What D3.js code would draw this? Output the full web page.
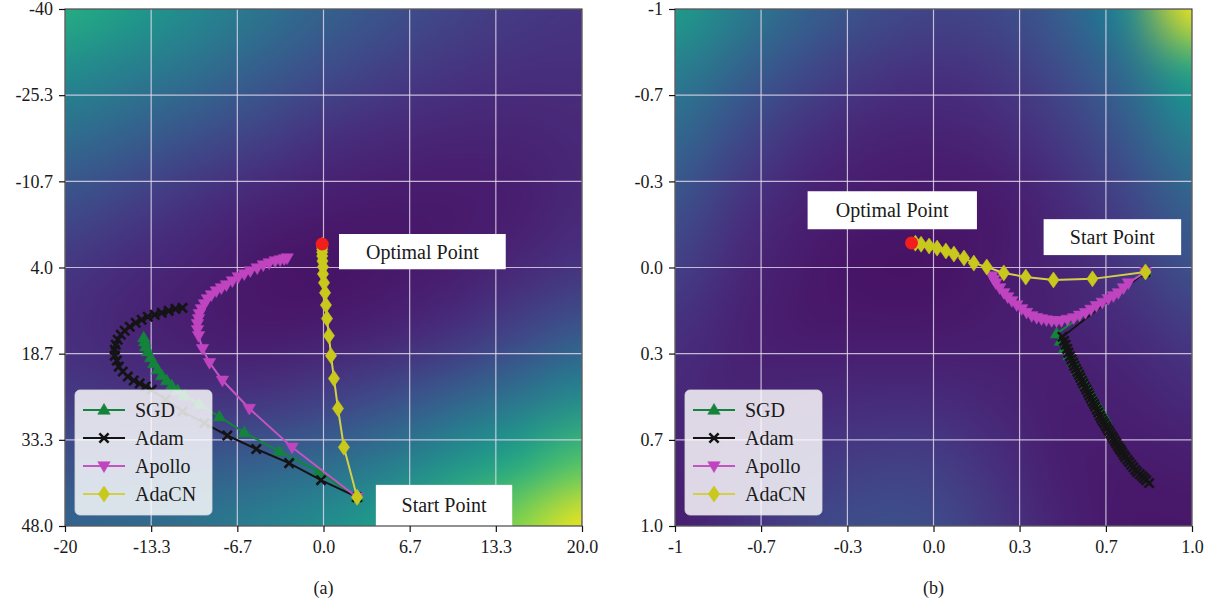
<!DOCTYPE html>
<html><head><meta charset="utf-8">
<script src="https://cdn.jsdelivr.net/npm/d3@7"></script>
<style>
body{margin:0;background:#fff;}
svg{display:block;font-family:"Liberation Serif","DejaVu Serif",serif;}
</style></head><body>
<svg id="chart" width="1221" height="605"></svg>
<script>
// ---------- tick values & labels ----------
const leftXTicks = [-20, -13.333, -6.667, 0, 6.667, 13.333, 20];
const leftXLabels = ["-20", "-13.3", "-6.7", "0.0", "6.7", "13.3", "20.0"];
const leftYTicks = [-40, -25.333, -10.667, 4, 18.667, 33.333, 48];
const leftYLabels = ["-40", "-25.3", "-10.7", "4.0", "18.7", "33.3", "48.0"];
const rightXTicks = [-1, -0.667, -0.333, 0, 0.333, 0.667, 1];
const rightXLabels = ["-1", "-0.7", "-0.3", "0.0", "0.3", "0.7", "1.0"];
const rightYTicks = [-1, -0.667, -0.333, 0, 0.333, 0.667, 1];
const rightYLabels = ["-1", "-0.7", "-0.3", "0.0", "0.3", "0.7", "1.0"];

const seriesNames = ["SGD", "Adam", "Apollo", "AdaCN"];
const captions = ["(a)", "(b)"];

// ---------- loss surface (colormap level 0..1) ----------
const leftSurfaceX = [-20, -15, -10, -5, 0, 5, 10, 15, 20];
const leftSurfaceY = [-40, -29, -18, -7, 4, 15, 26, 37, 48];
const leftSurface = [
  [0.62, 0.55, 0.47, 0.39, 0.31, 0.25, 0.20, 0.17, 0.15],
  [0.48, 0.42, 0.36, 0.29, 0.23, 0.18, 0.15, 0.13, 0.13],
  [0.35, 0.30, 0.24, 0.19, 0.14, 0.11, 0.10, 0.10, 0.11],
  [0.24, 0.19, 0.14, 0.10, 0.08, 0.07, 0.07, 0.08, 0.11],
  [0.16, 0.12, 0.09, 0.06, 0.05, 0.06, 0.08, 0.11, 0.15],
  [0.13, 0.10, 0.08, 0.07, 0.08, 0.10, 0.14, 0.20, 0.27],
  [0.17, 0.15, 0.14, 0.15, 0.18, 0.23, 0.30, 0.38, 0.47],
  [0.25, 0.25, 0.27, 0.30, 0.34, 0.41, 0.50, 0.60, 0.72],
  [0.32, 0.34, 0.38, 0.43, 0.49, 0.57, 0.68, 0.82, 0.98]
];
const rightSurfaceX = [-1, -0.75, -0.5, -0.25, 0, 0.25, 0.5, 0.75, 1];
const rightSurfaceY = [-1, -0.75, -0.5, -0.25, 0, 0.25, 0.5, 0.75, 1];
const rightSurface = [
  [0.55, 0.42, 0.31, 0.24, 0.20, 0.22, 0.30, 0.47, 0.98],
  [0.42, 0.31, 0.22, 0.16, 0.14, 0.16, 0.23, 0.35, 0.58],
  [0.33, 0.22, 0.14, 0.10, 0.09, 0.11, 0.17, 0.27, 0.42],
  [0.25, 0.15, 0.09, 0.07, 0.06, 0.07, 0.12, 0.20, 0.31],
  [0.19, 0.11, 0.07, 0.05, 0.05, 0.07, 0.10, 0.16, 0.25],
  [0.14, 0.09, 0.07, 0.07, 0.07, 0.08, 0.09, 0.12, 0.17],
  [0.11, 0.10, 0.11, 0.12, 0.12, 0.10, 0.08, 0.09, 0.12],
  [0.09, 0.12, 0.16, 0.18, 0.18, 0.13, 0.08, 0.07, 0.08],
  [0.08, 0.14, 0.20, 0.24, 0.23, 0.16, 0.09, 0.06, 0.06]
];

// ---------- trajectories, panel (a) ----------
const leftOptimum = [-0.1, 0.0];
const leftSGD = [
  [2.6, 43.1], [-0.35, 38.8], [-3.43, 35.3], [-6.13, 32.1], [-8.05, 29.4], [-9.60, 27.3],
  [-10.75, 25.79], [-11.29, 24.94], [-11.75, 24.09], [-12.14, 23.25], [-12.52, 22.40],
  [-12.83, 21.38], [-13.14, 20.36], [-13.37, 19.34], [-13.60, 18.33], [-13.76, 17.48],
  [-13.83, 16.63], [-13.91, 15.95]
];
const leftAdam = [
  [2.6, 43.1], [-0.19, 40.2], [-2.66, 37.3], [-5.20, 34.9], [-7.44, 32.6], [-9.21, 30.5],
  [-10.91, 28.5], [-12.22, 26.5], [-13.29, 24.8], [-13.76, 24.26], [-14.22, 23.75],
  [-14.68, 23.24], [-15.14, 22.57], [-15.53, 21.72], [-15.84, 20.87], [-15.99, 19.85],
  [-16.15, 19.00], [-16.15, 17.99], [-16.07, 17.14], [-15.92, 16.29], [-15.68, 15.44],
  [-15.38, 14.77], [-14.99, 14.09], [-14.53, 13.41], [-14.07, 12.90], [-13.60, 12.39],
  [-13.06, 12.05], [-12.52, 11.72], [-11.98, 11.38], [-11.45, 11.04], [-10.91, 10.87]
];
const leftApollo = [
  [2.6, 43.1], [-2.43, 34.6], [-5.74, 28.0], [-7.82, 23.2], [-8.82, 20.2], [-9.36, 17.8],
  [-9.67, 15.62], [-9.75, 14.60], [-9.75, 13.58], [-9.67, 12.73], [-9.60, 11.88],
  [-9.44, 11.04], [-9.21, 10.19], [-8.98, 9.34], [-8.67, 8.66], [-8.29, 7.99], [-7.90, 7.48],
  [-7.51, 6.97], [-7.05, 6.29], [-6.59, 5.61], [-6.13, 5.10], [-5.66, 4.59], [-5.13, 4.09],
  [-4.66, 3.58], [-4.20, 3.24], [-3.74, 2.90], [-3.35, 2.73], [-3.04, 2.56], [-2.81, 2.39]
];
const leftAdaCN = [
  [2.6, 43.1], [1.58, 34.6], [1.12, 28.0], [0.81, 22.9], [0.58, 19.0], [0.42, 15.6],
  [0.27, 12.7], [0.19, 10.4], [0.12, 8.3], [0.04, 6.6], [-0.04, 5.1], [-0.04, 3.9],
  [-0.08, 2.9], [-0.10, 2.05], [-0.10, 1.4], [-0.10, 0.9], [-0.10, 0.5], [-0.10, 0.2]
];

// ---------- trajectories, panel (b) ----------
const rightOptimum = [-0.085, -0.095];
const rightSGD = [
  [0.82, 0.017], [0.476, 0.256], [0.491, 0.285], [0.507, 0.314], [0.524, 0.341],
  [0.542, 0.368], [0.557, 0.397], [0.572, 0.426], [0.590, 0.455], [0.607, 0.484],
  [0.622, 0.511], [0.638, 0.538], [0.653, 0.565], [0.669, 0.592]
];
const rightAdam = [
  [0.82, 0.017], [0.499, 0.268], [0.505, 0.284], [0.511, 0.299], [0.517, 0.315],
  [0.522, 0.330], [0.528, 0.343], [0.534, 0.356], [0.540, 0.368], [0.545, 0.380],
  [0.551, 0.392], [0.557, 0.403], [0.563, 0.415], [0.568, 0.426], [0.574, 0.438],
  [0.580, 0.449], [0.586, 0.461], [0.592, 0.472], [0.598, 0.484], [0.603, 0.495],
  [0.609, 0.507], [0.615, 0.518], [0.621, 0.528], [0.626, 0.538], [0.632, 0.550],
  [0.638, 0.561], [0.644, 0.573], [0.649, 0.584], [0.655, 0.594], [0.661, 0.603],
  [0.667, 0.613], [0.672, 0.622], [0.678, 0.632], [0.684, 0.642], [0.690, 0.652],
  [0.696, 0.661], [0.702, 0.671], [0.707, 0.680], [0.713, 0.690], [0.719, 0.699],
  [0.725, 0.707], [0.730, 0.715], [0.736, 0.725], [0.742, 0.734], [0.750, 0.744],
  [0.757, 0.753], [0.765, 0.763], [0.773, 0.773], [0.781, 0.783], [0.788, 0.792],
  [0.798, 0.800], [0.807, 0.807], [0.815, 0.815], [0.823, 0.823], [0.834, 0.834]
];
const rightApollo = [
  [0.82, 0.017], [0.754, 0.060], [0.735, 0.079], [0.715, 0.098], [0.696, 0.110],
  [0.676, 0.121], [0.653, 0.135], [0.630, 0.148], [0.609, 0.162], [0.588, 0.175],
  [0.565, 0.185], [0.542, 0.195], [0.518, 0.201], [0.495, 0.206], [0.476, 0.207],
  [0.457, 0.206], [0.437, 0.203], [0.418, 0.199], [0.399, 0.194], [0.380, 0.187],
  [0.360, 0.174], [0.341, 0.160], [0.322, 0.145], [0.303, 0.129], [0.287, 0.114],
  [0.272, 0.098], [0.256, 0.079], [0.241, 0.060], [0.233, 0.046], [0.226, 0.033]
];
const rightAdaCN = [
  [0.82, 0.017], [0.615, 0.044], [0.464, 0.048], [0.357, 0.037], [0.272, 0.021],
  [0.206, -0.002], [0.156, -0.017], [0.118, -0.037], [0.079, -0.052], [0.048, -0.064],
  [0.014, -0.075], [-0.017, -0.083], [-0.048, -0.090], [-0.070, -0.094]
];

// ---------- styling ----------
const colors = {SGD: "#14833b", Adam: "#141414", Apollo: "#c044c0", AdaCN: "#c9c81c"};
const lineColors = {SGD: "#14833b", Adam: "#141414", Apollo: "#c255c2", AdaCN: "#d2cf4a"};
const markerPaths = {
  SGD: "M0,-6.5L6.2,4.2L-6.2,4.2Z",
  Adam: "M-4.6,-4.6L4.6,4.6M-4.6,4.6L4.6,-4.6",
  Apollo: "M0,6.5L6.2,-4.2L-6.2,-4.2Z",
  AdaCN: "M0,-8L5.6,0L0,8L-5.6,0Z"
};

const svg = d3.select("#chart");
const TOP = 9, SIZE = 517;
const FONT = '"Liberation Serif","DejaVu Serif",serif';

const panels = [
  {
    left: 65, xDomain: [-20, 20], yDomain: [-40, 48],
    xTicks: leftXTicks, xLabels: leftXLabels, yTicks: leftYTicks, yLabels: leftYLabels,
    sx: leftSurfaceX, sy: leftSurfaceY, surface: leftSurface,
    series: {SGD: leftSGD, Adam: leftAdam, Apollo: leftApollo, AdaCN: leftAdaCN},
    optimum: leftOptimum, caption: captions[0],
    optBox: [1.2, 14.1, -1.7, 4.3], startBox: [4.05, 14.6, 41.0, 48]
  },
  {
    left: 675, xDomain: [-1, 1], yDomain: [-1, 1],
    xTicks: rightXTicks, xLabels: rightXLabels, yTicks: rightYTicks, yLabels: rightYLabels,
    sx: rightSurfaceX, sy: rightSurfaceY, surface: rightSurface,
    series: {SGD: rightSGD, Adam: rightAdam, Apollo: rightApollo, AdaCN: rightAdaCN},
    optimum: rightOptimum, caption: captions[1],
    optBox: [-0.487, 0.168, -0.295, -0.148], startBox: [0.426, 0.958, -0.187, -0.048]
  }
];

panels.forEach((p, pi) => {
  const x = d3.scaleLinear().domain(p.xDomain).range([p.left, p.left + SIZE]);
  const y = d3.scaleLinear().domain(p.yDomain).range([TOP, TOP + SIZE]);
  const g = svg.append("g");

  const clipId = "clip" + pi;
  svg.append("defs").append("clipPath").attr("id", clipId)
    .append("rect").attr("x", p.left).attr("y", TOP).attr("width", SIZE).attr("height", SIZE);

  // heatmap: coarse grid coloured with viridis, smoothed on upscale
  const nx = p.sx.length, ny = p.sy.length;
  const small = document.createElement("canvas");
  small.width = nx; small.height = ny;
  const sctx = small.getContext("2d");
  const img = sctx.createImageData(nx, ny);
  for (let j = 0; j < ny; j++) for (let i = 0; i < nx; i++) {
    const c = d3.rgb(d3.interpolateViridis(p.surface[j][i]));
    const k = (j * nx + i) * 4;
    img.data[k] = c.r; img.data[k + 1] = c.g; img.data[k + 2] = c.b; img.data[k + 3] = 255;
  }
  sctx.putImageData(img, 0, 0);
  const big = document.createElement("canvas");
  big.width = SIZE; big.height = SIZE;
  const bctx = big.getContext("2d");
  bctx.imageSmoothingEnabled = true;
  bctx.imageSmoothingQuality = "high";
  const x0 = x(p.sx[0]), x1 = x(p.sx[nx - 1]);
  const y0 = y(p.sy[0]), y1 = y(p.sy[ny - 1]);
  const cw = (x1 - x0) / (nx - 1), ch = (y1 - y0) / (ny - 1);
  bctx.drawImage(small, x0 - cw / 2 - p.left, y0 - ch / 2 - TOP, (x1 - x0) + cw, (y1 - y0) + ch);
  g.append("image").attr("href", big.toDataURL())
    .attr("x", p.left).attr("y", TOP).attr("width", SIZE).attr("height", SIZE)
    .attr("preserveAspectRatio", "none");

  // grid
  const grid = g.append("g").attr("clip-path", `url(#${clipId})`);
  p.xTicks.forEach(t => grid.append("line").attr("x1", x(t)).attr("x2", x(t))
    .attr("y1", TOP).attr("y2", TOP + SIZE).attr("stroke", "#e6dcef").attr("stroke-opacity", 0.8).attr("stroke-width", 1.2));
  p.yTicks.forEach(t => grid.append("line").attr("y1", y(t)).attr("y2", y(t))
    .attr("x1", p.left).attr("x2", p.left + SIZE).attr("stroke", "#e6dcef").attr("stroke-opacity", 0.8).attr("stroke-width", 1.2));

  // trajectories
  const line = d3.line().x(d => x(d[0])).y(d => y(d[1]));
  const tr = g.append("g").attr("clip-path", `url(#${clipId})`);
  seriesNames.forEach(name => {
    const data = p.series[name];
    tr.append("path").attr("d", line(data)).attr("fill", "none")
      .attr("stroke", lineColors[name]).attr("stroke-width", 2);
    tr.selectAll(null).data(data).enter().append("path")
      .attr("transform", d => `translate(${x(d[0])},${y(d[1])})`)
      .attr("d", markerPaths[name])
      .attr("fill", name === "Adam" ? "none" : colors[name])
      .attr("stroke", colors[name])
      .attr("stroke-width", name === "Adam" ? 2.6 : 0.6);
  });
  tr.append("circle").attr("cx", x(p.optimum[0])).attr("cy", y(p.optimum[1]))
    .attr("r", 6.5).attr("fill", "#f21d1d");

  // annotation boxes
  const ann = [[p.optBox, "Optimal Point"], [p.startBox, "Start Point"]];
  ann.forEach(([b, label]) => {
    const bx0 = x(b[0]), bx1 = x(b[1]), by0 = y(b[2]), by1 = y(b[3]);
    g.append("rect").attr("x", bx0).attr("y", by0).attr("width", bx1 - bx0).attr("height", by1 - by0)
      .attr("fill", "#fff");
    g.append("text").attr("x", (bx0 + bx1) / 2).attr("y", (by0 + by1) / 2)
      .attr("text-anchor", "middle").attr("dominant-baseline", "central")
      .attr("font-size", 20).attr("fill", "#1a1a1a").text(label);
  });

  // spines
  g.append("rect").attr("x", p.left).attr("y", TOP).attr("width", SIZE).attr("height", SIZE)
    .attr("fill", "none").attr("stroke", "#222").attr("stroke-width", 1);

  // axes
  const xAxis = d3.axisBottom(x).tickValues(p.xTicks).tickFormat((d, i) => p.xLabels[i])
    .tickSize(6).tickSizeOuter(0).tickPadding(8);
  const yAxis = d3.axisLeft(y).tickValues(p.yTicks).tickFormat((d, i) => p.yLabels[i])
    .tickSize(6).tickSizeOuter(0).tickPadding(6);
  const gx = g.append("g").attr("transform", `translate(0,${TOP + SIZE})`).call(xAxis);
  const gy = g.append("g").attr("transform", `translate(${p.left},0)`).call(yAxis);
  [gx, gy].forEach(a => {
    a.select(".domain").remove();
    a.selectAll(".tick line").attr("stroke", "#111").attr("stroke-width", 1.2);
    a.selectAll(".tick text").attr("font-size", 18).attr("fill", "#1a1a1a").attr("font-family", FONT);
  });

  // legend
  const lg = g.append("g").attr("transform", `translate(${p.left + 10},${TOP + SIZE - 136})`);
  lg.append("rect").attr("width", 137).attr("height", 125).attr("rx", 5)
    .attr("fill", "#fff").attr("fill-opacity", 0.82).attr("stroke", "#d8d8d8").attr("stroke-width", 0.8);
  seriesNames.forEach((name, i) => {
    const yy = 20 + i * 28;
    lg.append("line").attr("x1", 8).attr("x2", 50).attr("y1", yy).attr("y2", yy)
      .attr("stroke", lineColors[name]).attr("stroke-width", 2);
    lg.append("path").attr("transform", `translate(29,${yy})`).attr("d", markerPaths[name])
      .attr("fill", name === "Adam" ? "none" : colors[name]).attr("stroke", colors[name])
      .attr("stroke-width", name === "Adam" ? 2.6 : 0.6);
    lg.append("text").attr("x", 60).attr("y", yy).attr("dominant-baseline", "central")
      .attr("font-size", 20).attr("fill", "#1a1a1a").text(name);
  });

  // caption
  g.append("text").attr("x", p.left + SIZE / 2).attr("y", 594).attr("text-anchor", "middle")
    .attr("font-size", 18).attr("fill", "#1a1a1a").text(p.caption);
});
</script>
</body></html>
